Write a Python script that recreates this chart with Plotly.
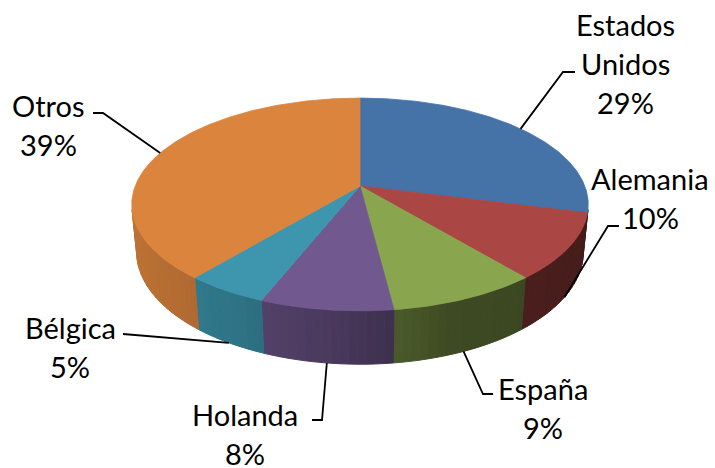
import numpy as np
import plotly.graph_objects as go

# ---------------- data ----------------
countries = ["Estados Unidos", "Alemania", "España", "Holanda", "Bélgica", "Otros"]
shares = [29, 10, 9, 8, 5, 39]

# ---------------- style ----------------
top_colors = ["#4572A7", "#AA4643", "#89A54E", "#71588F", "#3D96AE", "#DB843D"]
FONT = "Lato"
FONT_SIZE = 29
LINE_GAP = 39

# label placement (center of first text line), elbow and end of leader line
label_pos = [(625, 24), (650, 178), (543, 388), (245, 414), (70, 327), (48, 105)]
leader_elbow = [(563, 72), (608, 226), (483, 394), (322, 420), (123, 334), (103, 113)]
leader_end = [(575, 72), (619, 226), (493, 394), (312, 420), (123, 334), (93, 113)]

# projection of the 3D pie (screen pixels)
CX, CY, K = 360.0, 186.0, 1151.0
DIST = 5.12
SIN_E = 0.459
COS_E = np.sqrt(1 - SIN_E ** 2)
H = 0.24


def project(theta_deg, r=1.0, z=0.0):
    t = np.radians(theta_deg)
    X = r * np.sin(t)
    Y = r * np.cos(t)
    depth = DIST + Y * COS_E - z * SIN_E
    xs = X / depth
    ys = (Y * SIN_E + z * COS_E) / depth
    return CX + K * xs, CY - K * ys


def hex_to_rgb(h):
    h = h.lstrip("#")
    return tuple(int(h[i:i + 2], 16) for i in (0, 2, 4))


def shade(hexcol, f):
    r, g, b = hex_to_rgb(hexcol)
    return "rgb(%d,%d,%d)" % (r * f, g * f, b * f)


def wall_factor(theta):
    pts = [(90, 0.40), (120, 0.42), (160, 0.45), (187, 0.66), (210, 0.78), (240, 0.85), (270, 0.88)]
    xs = [p[0] for p in pts]
    ys = [p[1] for p in pts]
    return float(np.interp(theta, xs, ys))


total = float(sum(shares))
bounds = np.concatenate([[0.0], np.cumsum(shares) / total * 360.0])

# visible wall range (outward normal faces camera)
lim = np.degrees(np.arccos(-1.0 / (DIST * COS_E)))
vis_lo, vis_hi = lim, 360.0 - lim

fig = go.Figure()

# ---- side walls ----
for i in range(len(shares)):
    a0 = max(bounds[i], vis_lo)
    a1 = min(bounds[i + 1], vis_hi)
    if a1 <= a0:
        continue
    n = max(1, int(np.ceil((a1 - a0) / 2.0)))
    edges = np.linspace(a0, a1, n + 1)
    for j in range(n):
        s0, s1 = edges[j], edges[j + 1]
        th = np.linspace(s0, s1, 6)
        tx, ty = project(th, 1.0, 0.0)
        bx, by = project(th[::-1], 1.0, -H)
        px = np.concatenate([tx, bx, tx[:1]])
        py = np.concatenate([ty, by, ty[:1]])
        col = shade(top_colors[i], wall_factor((s0 + s1) / 2))
        fig.add_trace(go.Scatter(x=px, y=py, mode="lines", fill="toself",
                                 fillcolor=col, line=dict(color=col, width=1),
                                 hoverinfo="skip", showlegend=False))

# ---- top faces ----
for i in range(len(shares)):
    th = np.linspace(bounds[i], bounds[i + 1], int(max(4, (bounds[i + 1] - bounds[i]) * 2)))
    ax_, ay_ = project(th, 1.0, 0.0)
    px = np.concatenate([[CX], ax_, [CX]])
    py = np.concatenate([[CY], ay_, [CY]])
    fig.add_trace(go.Scatter(x=px, y=py, mode="lines", fill="toself",
                             fillcolor=top_colors[i], line=dict(color=top_colors[i], width=0.8),
                             hoverinfo="skip", showlegend=False,
                             name=countries[i]))

# ---- labels and leader lines ----
annotations = []
for i, name in enumerate(countries):
    mid = (bounds[i] + bounds[i + 1]) / 2
    cosm = np.cos(np.radians(mid))
    z = -H if cosm < 0 else 0.0
    axp, ayp = project(mid, 1.0, z)
    ex, ey = leader_elbow[i]
    fx, fy = leader_end[i]
    fig.add_trace(go.Scatter(x=[axp, ex, fx], y=[ayp, ey, fy], mode="lines",
                             line=dict(color="black", width=1.8),
                             hoverinfo="skip", showlegend=False))
    lines = name.split(" ") + ["%d%%" % round(shares[i] / total * 100)]
    lx, ly = label_pos[i]
    for k, txt in enumerate(lines):
        annotations.append(dict(x=lx, y=ly + k * LINE_GAP, xref="x", yref="y",
                                text=txt, showarrow=False, xanchor="center",
                                yanchor="middle", borderpad=0,
                                font=dict(family=FONT, size=FONT_SIZE, color="black")))

fig.update_layout(
    width=715, height=468,
    margin=dict(l=0, r=0, t=0, b=0),
    paper_bgcolor="white", plot_bgcolor="white",
    xaxis=dict(range=[0, 715], visible=False, fixedrange=True),
    yaxis=dict(range=[468, 0], visible=False, fixedrange=True),
    annotations=annotations,
    showlegend=False,
)

fig.write_html("out.html", config={"displayModeBar": False},
               post_script="document.body.style.margin='0';document.body.style.overflow='hidden';")
